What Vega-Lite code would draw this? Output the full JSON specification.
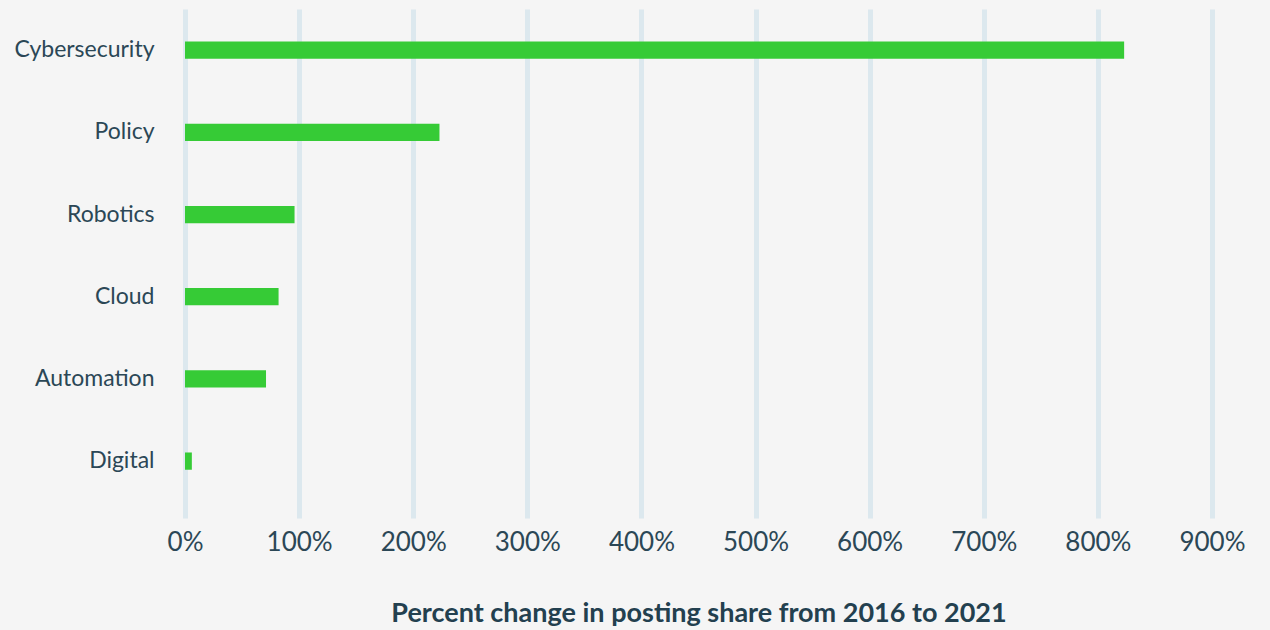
{
  "$schema": "https://vega.github.io/schema/vega-lite/v6.json",
  "width": 1027,
  "height": 509,
  "autosize": {"type": "none"},
  "padding": {"left": 185, "top": 9, "right": 58, "bottom": 112},
  "background": "#f5f5f5",
  "data": {
    "values": [
      {"category": "Cybersecurity", "change": 823},
      {"category": "Policy", "change": 223},
      {"category": "Robotics", "change": 96},
      {"category": "Cloud", "change": 82},
      {"category": "Automation", "change": 71},
      {"category": "Digital", "change": 6}
    ]
  },
  "mark": {"type": "bar", "color": "#36cb36", "height": {"band": 0.21}},
  "encoding": {
    "y": {
      "field": "category",
      "type": "nominal",
      "sort": null,
      "scale": {"paddingInner": 0, "paddingOuter": 0.096, "align": 0},
      "axis": {
        "title": null,
        "domain": false,
        "ticks": false,
        "grid": false,
        "labelFont": "Lato",
        "labelFontSize": 23,
        "labelColor": "#2b4756",
        "labelPadding": 31,
        "labelOffset": 0
      }
    },
    "x": {
      "field": "change",
      "type": "quantitative",
      "scale": {"domain": [0, 900], "nice": false, "zero": true},
      "axis": {
        "values": [0, 100, 200, 300, 400, 500, 600, 700, 800, 900],
        "labelExpr": "datum.value + '%'",
        "labelFlush": false,
        "domain": false,
        "ticks": false,
        "grid": true,
        "gridColor": "#dce8ee",
        "gridWidth": 5,
        "labelFont": "Lato",
        "labelFontSize": 26,
        "labelColor": "#2b4756",
        "labelPadding": 11,
        "title": "Percent change in posting share from 2016 to 2021",
        "titleFont": "Lato",
        "titleFontSize": 27,
        "titleFontWeight": "bold",
        "titleColor": "#23404f",
        "titlePadding": 45
      }
    }
  },
  "config": {"view": {"stroke": null}}
}
